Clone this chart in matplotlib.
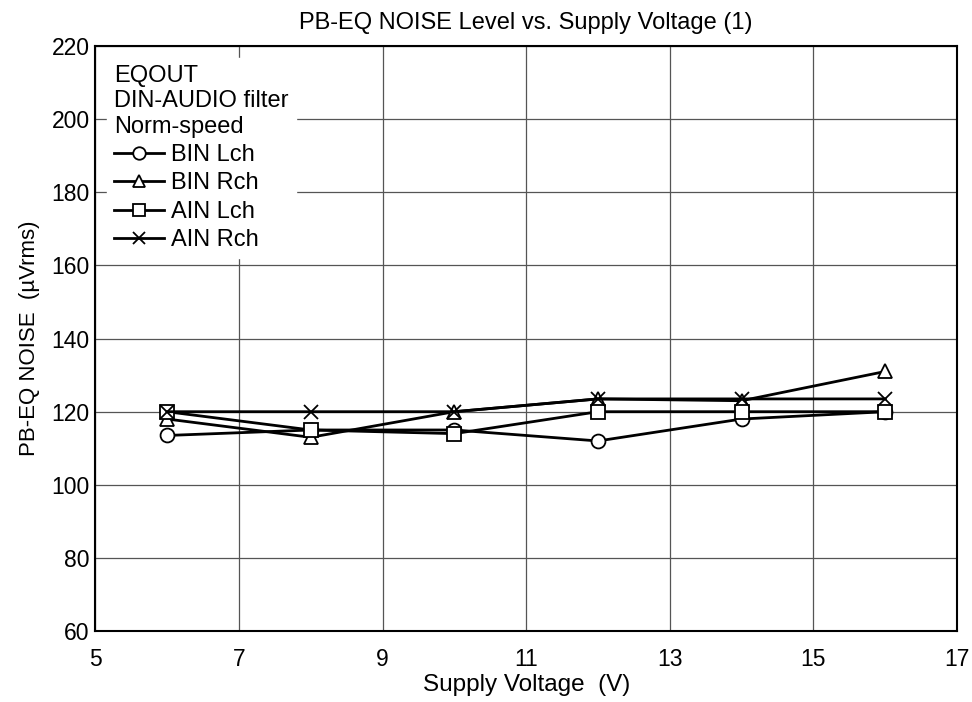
import matplotlib
matplotlib.use("Agg")
import matplotlib.pyplot as plt

# supply voltage (V)
voltage = [6, 8, 10, 12, 14, 16]

# PB-EQ noise (uVrms) per channel
bin_lch = [113.5, 115, 115, 112, 118, 120]
bin_rch = [118, 113, 120, 123.5, 123, 131]
ain_lch = [120, 115, 114, 120, 120, 120]
ain_rch = [120, 120, 120, 123.5, 123.5, 123.5]

labels = ["BIN Lch", "BIN Rch", "AIN Lch", "AIN Rch"]
markers = ["o", "^", "s", "x"]

plt.rcParams['font.family'] = ['Liberation Sans', 'DejaVu Sans']

fig = plt.figure(figsize=(9.72, 7.02), dpi=100)
ax = fig.add_axes([0.098, 0.101, 0.8866, 0.8334])

for ys, lab, mk in zip([bin_lch, bin_rch, ain_lch, ain_rch], labels, markers):
    ax.plot(voltage, ys, color="black", linewidth=2, marker=mk,
            markersize=10, markerfacecolor="white",
            markeredgecolor="black", markeredgewidth=1.3, label=lab)

ax.set_xlim(5, 17)
ax.set_ylim(60, 220)
ax.set_xticks(range(5, 18, 2))
ax.set_yticks(range(60, 221, 20))
ax.grid(True, color="#555555", linewidth=0.9)
ax.set_axisbelow(True)
ax.tick_params(labelsize=16.5, direction="in", length=0)
ax.tick_params(axis="x", pad=12)
ax.tick_params(axis="y", pad=4)
for s in ax.spines.values():
    s.set_linewidth(1.5)

ax.set_title("PB-EQ NOISE Level vs. Supply Voltage (1)", fontsize=17, pad=12)
ax.set_xlabel("Supply Voltage  (V)", fontsize=17.5, labelpad=2)
ax.set_ylabel("PB-EQ NOISE  (\u00b5Vrms)", fontsize=16, labelpad=8)

leg = ax.legend(loc="upper left", title="EQOUT\nDIN-AUDIO filter\nNorm-speed",
                fontsize=17, title_fontsize=17, frameon=True, fancybox=False,
                edgecolor="white", framealpha=1, handlelength=2.1,
                handletextpad=0.3, labelspacing=0.27, borderaxespad=0.5,
                borderpad=0.3, markerscale=0.9)
leg._legend_box.align = "left"

fig.savefig("out.png", dpi=100)
